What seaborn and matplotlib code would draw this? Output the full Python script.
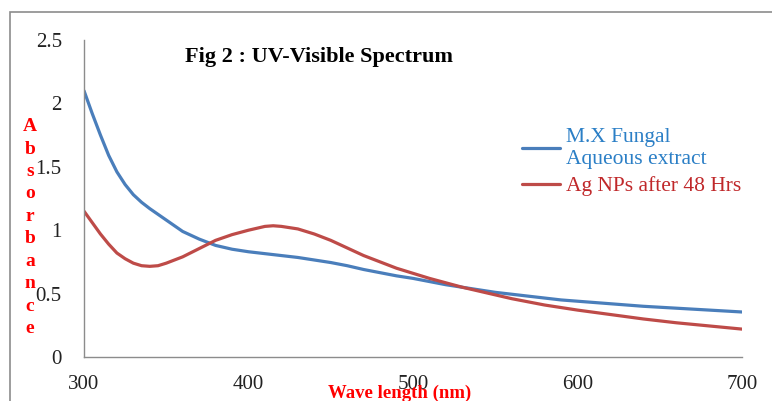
import pandas as pd
import seaborn as sns
import matplotlib.pyplot as plt
from matplotlib.patches import Rectangle

# Spectrum readings (nm, absorbance)
wl_extract = [300, 305, 310, 315, 320, 325, 330, 335, 340, 350, 360, 370, 380, 390,
              400, 410, 420, 430, 440, 450, 460, 470, 480, 490, 500, 510, 520, 530,
              540, 550, 560, 570, 580, 590, 600, 620, 640, 660, 680, 700]
abs_extract = [2.10, 1.92, 1.75, 1.59, 1.46, 1.36, 1.28, 1.22, 1.17, 1.08, 0.99, 0.93,
               0.88, 0.85, 0.83, 0.815, 0.80, 0.785, 0.765, 0.745, 0.72, 0.69, 0.665,
               0.64, 0.62, 0.595, 0.57, 0.55, 0.53, 0.51, 0.495, 0.48, 0.465, 0.45,
               0.44, 0.42, 0.40, 0.385, 0.37, 0.355]

wl_agnp = [300, 305, 310, 315, 320, 325, 330, 335, 340, 345, 350, 360, 370, 380, 390,
           400, 410, 415, 420, 430, 440, 450, 460, 470, 480, 490, 500, 510, 520, 530,
           540, 550, 560, 570, 580, 590, 600, 620, 640, 660, 680, 700]
abs_agnp = [1.15, 1.06, 0.97, 0.89, 0.82, 0.775, 0.74, 0.72, 0.715, 0.72, 0.74, 0.79,
            0.855, 0.92, 0.965, 1.00, 1.03, 1.035, 1.03, 1.01, 0.97, 0.92, 0.86, 0.80,
            0.75, 0.70, 0.66, 0.62, 0.585, 0.55, 0.52, 0.49, 0.46, 0.435, 0.41, 0.39,
            0.37, 0.335, 0.30, 0.27, 0.245, 0.22]

series_names = ["M.X Fungal\nAqueous extract", "Ag NPs after 48 Hrs"]
line_colors = ["#4A7EBB", "#BE4B48"]
text_colors = ["#2B7FC6", "#C0282A"]

x_ticks = [300, 400, 500, 600, 700]
y_ticks = [0, 0.5, 1, 1.5, 2, 2.5]

df = pd.concat([
    pd.DataFrame({"wl": wl_extract, "abs": abs_extract, "series": series_names[0]}),
    pd.DataFrame({"wl": wl_agnp, "abs": abs_agnp, "series": series_names[1]}),
])

sns.set_style("white")
plt.rcParams["font.family"] = ["Liberation Serif", "DejaVu Serif"]

fig = plt.figure(figsize=(7.72, 4.01), dpi=100)
ax = fig.add_axes([84 / 772, 1 - 357 / 401, (742 - 84) / 772, (357 - 40) / 401])

sns.lineplot(data=df, x="wl", y="abs", hue="series", palette=line_colors,
             linewidth=2.3, ax=ax, sort=False)

ax.set_xlim(300, 700)
ax.set_ylim(0, 2.5)
ax.set_xticks(x_ticks)
ax.set_yticks(y_ticks)
ax.set_xticklabels([str(t) for t in x_ticks])
ax.set_yticklabels(["0", "0.5", "1", "1.5", "2", "2.5"])

for side in ["top", "right"]:
    ax.spines[side].set_visible(False)
for side in ["left", "bottom"]:
    ax.spines[side].set_color("#8C8C8C")
    ax.spines[side].set_linewidth(1)
ax.tick_params(axis="both", direction="out", length=6, width=1, color="#8C8C8C",
               labelsize=15, labelcolor="#222222")
ax.tick_params(axis="y", pad=10)
ax.tick_params(axis="x", pad=7)

# Axis titles
ax.set_xlabel("Wave length (nm)", fontsize=13.5, fontweight="bold", color="red")
ax.xaxis.set_label_coords(0.479, -0.088)
ax.set_ylabel("\n".join("Absorbance"), rotation=0, fontsize=14, fontweight="bold",
              color="red", linespacing=1.42, va="center", ha="center")
ax.yaxis.set_label_coords(-0.082, 0.408)

ax.text(0.154, 0.945, "Fig 2 : UV-Visible Spectrum", transform=ax.transAxes,
        fontsize=16, fontweight="bold", color="black", va="center")

leg = ax.legend(loc="upper left", bbox_to_anchor=(0.652, 0.75), frameon=False,
                fontsize=15.5, handlelength=1.8, handletextpad=0.25, labelspacing=0.35,
                borderaxespad=0)
for txt, c in zip(leg.get_texts(), text_colors):
    txt.set_color(c)

# outer chart frame
fig.patches.append(Rectangle((10 / 772, -0.05), 1.0, 1 - 12 / 401 + 0.05,
                             transform=fig.transFigure, fill=False,
                             edgecolor="#8C8C8C", linewidth=1.2))

fig.savefig("out.png", dpi=100)
